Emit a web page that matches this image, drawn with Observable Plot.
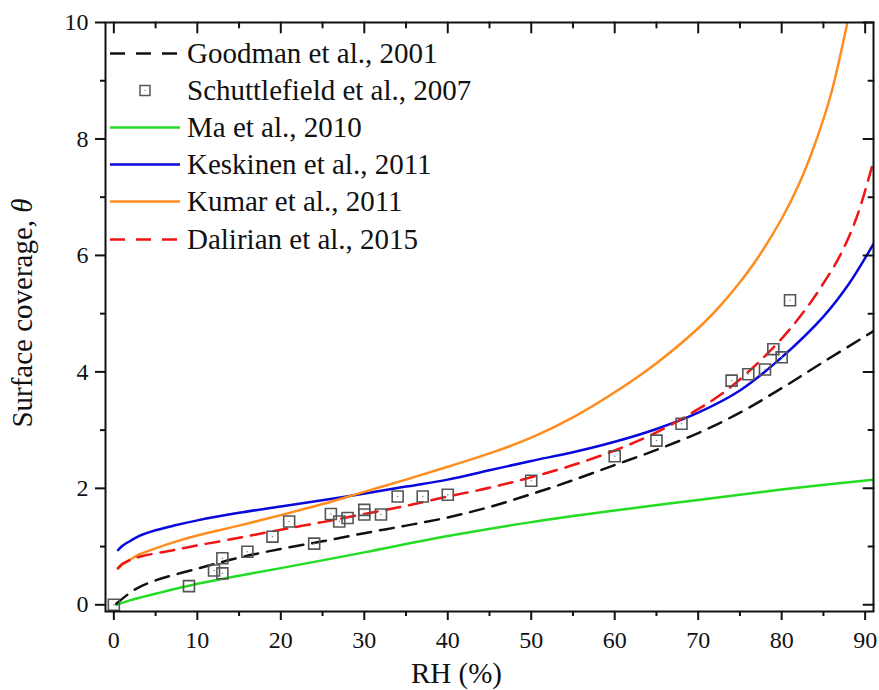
<!DOCTYPE html>
<html><head><meta charset="utf-8">
<script src="https://cdn.jsdelivr.net/npm/d3@7"></script>
<script src="https://cdn.jsdelivr.net/npm/@observablehq/plot@0.6"></script>
<style>
body{margin:0;background:#fff;}
#wrap{position:relative;width:879px;height:690px;font-family:'Liberation Serif','Times New Roman',Times,'DejaVu Serif',serif;}
#legend{position:absolute;left:110px;top:0;}
.row{position:absolute;left:0;display:flex;align-items:center;height:37px;white-space:nowrap;font-size:29px;color:#111;font-family:'Liberation Serif','Times New Roman',Times,'DejaVu Serif',serif;}
.row svg{display:block;}
.row span{margin-left:7px;}
</style></head><body><div id="wrap"></div>
<script>
// ---- data ----
const xMajor = [0, 10, 20, 30, 40, 50, 60, 70, 80, 90];
const xMinor = [5, 15, 25, 35, 45, 55, 65, 75, 85];
const yMajor = [0, 2, 4, 6, 8, 10];
const yMinor = [1, 3, 5, 7, 9];

const goodmanRH    = [0.3, 2.6, 5, 10, 15, 20, 25, 30, 35, 40, 45, 50, 55, 60, 65, 70, 75, 80, 85, 91];
const goodmanTheta = [0.02, 0.27, 0.42, 0.62, 0.81, 0.96, 1.09, 1.23, 1.36, 1.50, 1.68, 1.90, 2.14, 2.40, 2.66, 2.95, 3.30, 3.72, 4.17, 4.70];

const schutRH    = [0, 9, 12, 13, 13, 16, 19, 21, 24, 26, 27, 28, 30, 30, 32, 34, 37, 40, 50, 60, 65, 68, 74, 76, 78, 79, 80, 81];
const schutTheta = [0, 0.32, 0.59, 0.80, 0.54, 0.91, 1.17, 1.43, 1.05, 1.56, 1.43, 1.49, 1.63, 1.55, 1.55, 1.86, 1.86, 1.89, 2.13, 2.55, 2.82, 3.11, 3.85, 3.96, 4.04, 4.39, 4.25, 5.23];

const maRH    = [0.3, 2, 5, 10, 15, 20, 30, 40, 50, 60, 70, 80, 91];
const maTheta = [0.0, 0.08, 0.19, 0.36, 0.50, 0.63, 0.90, 1.18, 1.42, 1.62, 1.80, 1.98, 2.15];

const keskRH    = [0.5, 1, 2, 3, 5, 7.5, 10, 15, 20, 27.5, 35, 40, 45, 50, 55, 60, 65, 70, 75, 80, 85, 88, 91];
const keskTheta = [0.94, 1.01, 1.10, 1.18, 1.28, 1.37, 1.45, 1.58, 1.69, 1.85, 2.03, 2.15, 2.31, 2.47, 2.62, 2.80, 3.02, 3.30, 3.68, 4.25, 4.95, 5.50, 6.20];

const kumarRH    = [0.5, 1, 2, 3, 5, 7.5, 10, 15, 20, 25, 30, 35, 40, 45, 50, 55, 60, 65, 70, 72.6, 75, 77, 80, 82, 84, 86, 87.8, 88.6];
const kumarTheta = [0.62, 0.69, 0.78, 0.86, 0.97, 1.09, 1.19, 1.36, 1.54, 1.73, 1.94, 2.15, 2.37, 2.60, 2.87, 3.22, 3.65, 4.15, 4.75, 5.13, 5.54, 5.93, 6.63, 7.20, 7.92, 8.82, 9.95, 10.5];

const dalRH    = [0.5, 1, 2, 3.2, 6.8, 10, 15, 20, 25, 30, 35, 40, 45, 50, 55, 60, 65, 70, 73, 76, 80, 83, 85, 87, 89, 91];
const dalTheta = [0.63, 0.70, 0.77, 0.83, 0.93, 1.02, 1.15, 1.29, 1.42, 1.56, 1.70, 1.86, 2.01, 2.19, 2.40, 2.65, 2.96, 3.36, 3.64, 4.00, 4.57, 5.10, 5.52, 6.00, 6.66, 7.62];

const seriesNames = ["Goodman et al., 2001", "Schuttlefield et al., 2007", "Ma et al., 2010", "Keskinen et al., 2011", "Kumar et al., 2011", "Dalirian et al., 2015"];
const seriesColors = ["#111111", "#555555", "#22dd22", "#0808dd", "#ff8c1e", "#f01414"];

// ---- build tables ----
const zip = (xs, ys) => xs.map((x, i) => ({x, y: ys[i]}));
const goodman = zip(goodmanRH, goodmanTheta);
const schut = zip(schutRH, schutTheta);
const ma = zip(maRH, maTheta);
const kesk = zip(keskRH, keskTheta);
const kumar = zip(kumarRH, kumarTheta);
const dal = zip(dalRH, dalTheta);

const FONT = "'Liberation Serif','Times New Roman',Times,'DejaVu Serif',serif";
const dash = "14,9";
const lw = 2.5;
const crv = "catmull-rom";
const tickShape = {draw(ctx, l) { ctx.moveTo(0, 0); ctx.lineTo(0, -l); }};
const ink = "#111";

const chart = Plot.plot({
  width: 879, height: 690,
  marginLeft: 105, marginRight: 6, marginTop: 22, marginBottom: 79,
  x: {domain: [-1, 91]},
  y: {domain: [-0.115, 10]},
  style: {fontFamily: FONT, color: ink, background: "white"},
  marks: [
    Plot.line(ma, {x: "x", y: "y", stroke: seriesColors[2], strokeWidth: lw, curve: crv, clip: true}),
    Plot.line(kesk, {x: "x", y: "y", stroke: seriesColors[3], strokeWidth: lw, curve: crv, clip: true}),
    Plot.line(kumar, {x: "x", y: "y", stroke: seriesColors[4], strokeWidth: lw, curve: crv, clip: true}),
    Plot.line(goodman, {x: "x", y: "y", stroke: seriesColors[0], strokeWidth: lw, strokeDasharray: dash, curve: crv, clip: true}),
    Plot.line(dal, {x: "x", y: "y", stroke: seriesColors[5], strokeWidth: lw, strokeDasharray: dash, curve: crv, clip: true}),
    Plot.dot(schut, {x: "x", y: "y", symbol: "square", r: 6.2, fill: "none", stroke: seriesColors[1], strokeWidth: 1.6}),
    Plot.dot(schut, {x: "x", y: "y", r: 0.8, fill: "#888", stroke: "none"}),
    // axes
    Plot.axisX({ticks: xMajor, tickSize: 9, tickPadding: 10, fontSize: 24, fontFamily: FONT, strokeWidth: 2, label: null, tickFormat: d => String(d)}),
    Plot.axisX({ticks: xMinor, tickSize: 5, text: null, strokeWidth: 2, label: null}),
    Plot.axisY({ticks: yMajor, tickSize: 10, tickPadding: 7, fontSize: 24, fontFamily: FONT, strokeWidth: 2, label: null, tickFormat: d => String(d)}),
    Plot.axisY({ticks: yMinor, tickSize: 5, text: null, strokeWidth: 2, label: null}),
    Plot.vector(xMajor, {x: d => d, frameAnchor: "top", length: 10, rotate: 180, anchor: "start", shape: tickShape, stroke: ink, strokeWidth: 2}),
    Plot.vector(xMinor, {x: d => d, frameAnchor: "top", length: 5, rotate: 180, anchor: "start", shape: tickShape, stroke: ink, strokeWidth: 2}),
    Plot.vector(yMajor, {y: d => d, frameAnchor: "right", length: 10, rotate: -90, anchor: "start", shape: tickShape, stroke: ink, strokeWidth: 2}),
    Plot.vector(yMinor, {y: d => d, frameAnchor: "right", length: 5, rotate: -90, anchor: "start", shape: tickShape, stroke: ink, strokeWidth: 2}),
    Plot.frame({stroke: ink, strokeWidth: 2}),
    Plot.text(["RH (%)"], {text: d => d, frameAnchor: "bottom", textAnchor: "middle", lineAnchor: "middle", dx: -33, dy: 62, fontSize: 29, fontFamily: FONT, fill: ink}),
    Plot.text(["Surface coverage, θ"], {text: d => d, frameAnchor: "left", textAnchor: "middle", lineAnchor: "middle", rotate: -90, dx: -83, dy: -4, fontSize: 29, fontFamily: FONT, fill: ink})
  ]
});

// italic theta in the y title
for (const t of chart.querySelectorAll("text")) {
  if (t.textContent === "Surface coverage, θ") {
    t.innerHTML = 'Surface coverage, <tspan font-style="italic">θ</tspan>';
  }
}

const wrap = document.getElementById("wrap");
wrap.appendChild(chart);

// legend
const legend = document.createElement("div");
legend.id = "legend";
seriesNames.forEach((name, i) => {
  const row = document.createElement("div");
  row.className = "row";
  row.style.top = (53 + 37.2 * i - 18.5) + "px";
  let sw;
  if (i === 1) {
    sw = `<svg width="70" height="37"><rect x="30" y="13.5" width="10" height="10" fill="none" stroke="${seriesColors[1]}" stroke-width="1.5"/><circle cx="35" cy="18.5" r="0.7" fill="#888"/></svg>`;
  } else {
    const d = (i === 0 || i === 5) ? `stroke-dasharray="15,11"` : "";
    sw = `<svg width="70" height="37"><line x1="0" x2="70" y1="18.5" y2="18.5" stroke="${seriesColors[i]}" stroke-width="2.7" ${d}/></svg>`;
  }
  row.innerHTML = sw + `<span>${name}</span>`;
  legend.appendChild(row);
});
wrap.appendChild(legend);
</script>
</body></html>
